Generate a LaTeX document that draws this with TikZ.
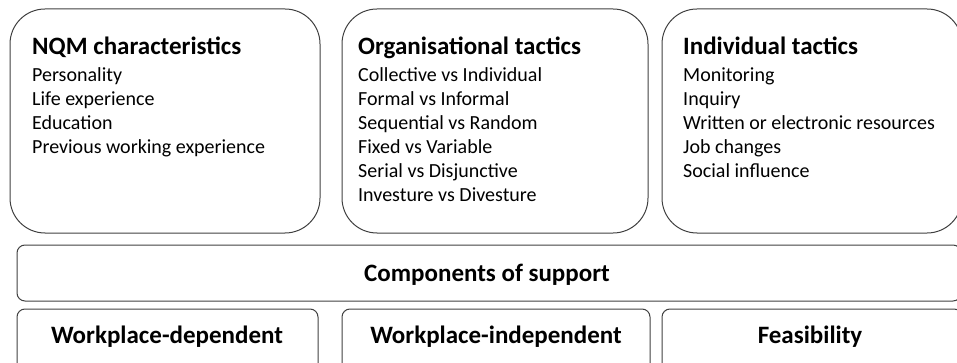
\documentclass[tikz,border=0pt]{standalone}
\usepackage{fontspec}
\setmainfont{Carlito}
\begin{document}
\begin{tikzpicture}[x=1pt,y=-1pt,
  panel/.style={draw=black!75, line width=1pt, rounded corners=35pt, inner sep=0pt},
  band/.style={draw=black!75, line width=1pt, rounded corners=8pt, inner sep=0pt},
  heading/.style={font=\fontsize{25}{29}\selectfont\bfseries, inner sep=0pt, anchor=base west},
  entry/.style={font=\fontsize{20}{24}\selectfont, inner sep=0pt, anchor=base west},
  label/.style={font=\fontsize{25}{29}\selectfont\bfseries, inner sep=0pt}]
\useasboundingbox (0,0) rectangle (957,363);

% three upper panels
\node[panel, minimum width=310pt, minimum height=224pt] (nqm) at (165,121) {};
\node[panel, minimum width=306pt, minimum height=224pt] (org) at (495,121) {};
\node[panel, minimum width=300pt, minimum height=224pt] (ind) at (812,121) {};

% panel headings
\node[heading] (nqm-h) at (32,55) {NQM characteristics};
\node[heading] (org-h) at (358,55) {Organisational tactics};
\node[heading] (ind-h) at (683,55) {Individual tactics};

% panel entries
\foreach \t [count=\i] in {Personality, Life experience, Education, Previous working experience}
  \node[entry] (nqm-\i) at (32,{82+24*(\i-1)}) {\t};
\foreach \t [count=\i] in {Collective vs Individual, Formal vs Informal, Sequential vs Random,
    Fixed vs Variable, Serial vs Disjunctive, Investure vs Divesture}
  \node[entry] (org-\i) at (358,{82+24*(\i-1)}) {\t};
\foreach \t [count=\i] in {Monitoring, Inquiry, Written or electronic resources, Job changes, Social influence}
  \node[entry] (ind-\i) at (683,{82+24*(\i-1)}) {\t};

% components band
\node[band, minimum width=944pt, minimum height=56pt] (comp) at (489,273) {};
\node[label, anchor=base] (comp-t) at (487,281) {Components of support};

% lower boxes
\node[band, minimum width=301pt, minimum height=70pt] (wd) at (167.5,344) {};
\node[band, minimum width=308pt, minimum height=70pt] (wi) at (496,344) {};
\node[band, minimum width=300pt, minimum height=70pt] (fe) at (812,344) {};
\node[label, anchor=base] (wd-t) at (167,343) {Workplace-dependent};
\node[label, anchor=base] (wi-t) at (496,343) {Workplace-independent};
\node[label, anchor=base] (fe-t) at (810,343) {Feasibility};
\end{tikzpicture}
\end{document}
